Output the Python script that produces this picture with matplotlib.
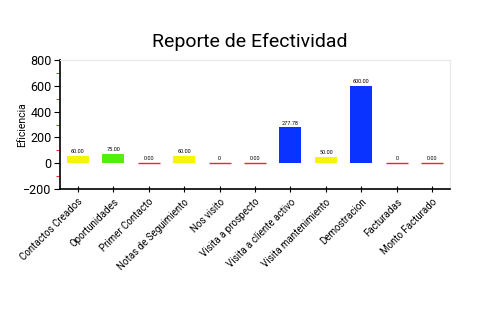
import matplotlib.pyplot as plt
from matplotlib.ticker import MultipleLocator

plt.rcParams['font.family'] = ['Roboto', 'DejaVu Sans']

categorias = ['Contactos Creados', 'Oportunidades', 'Primer Contacto',
              'Notas de Seguimiento', 'Nos visito', 'Visita a prospecto',
              'Visita a cliente activo', 'Visita mantenimiento', 'Demostracion',
              'Facturadas', 'Monto Facturado']
valores = [60, 75, 0, 60, 0, 0, 277.78, 50, 600, 0, 0]
etiquetas = ['60.00', '75.00', '0.00', '60.00', '0', '0.00',
             '277.78', '50.00', '600.00', '0', '0.00']
colores = ['#f5f50a', '#55ee0a', '#ff2020', '#f5f50a', '#ff2020', '#ff2020',
           '#0a33ff', '#f5f50a', '#0a33ff', '#ff2020', '#ff2020']

fig = plt.figure(figsize=(5, 3.3), dpi=100)
ax = fig.add_axes([0.12, 0.427, 0.78, 0.391])

x = list(range(len(categorias)))
for i in x:
    if valores[i] == 0:
        ax.bar(i, 0, width=0.62, color='none', edgecolor=colores[i], linewidth=1)
    else:
        ax.bar(i, valores[i], width=0.62, color=colores[i])
    ax.text(i, valores[i] + 15, etiquetas[i], ha='center', va='bottom', fontsize=4)

ax.set_ylim(-200, 800)
ax.set_xlim(-0.5, len(categorias) - 0.5)
ax.yaxis.set_major_locator(MultipleLocator(200))
ax.yaxis.set_minor_locator(MultipleLocator(100))
ax.tick_params(axis='y', which='minor', color='red', length=3)
ax.tick_params(axis='y', which='major', length=4, labelsize=9, pad=2)
ax.tick_params(axis='x', length=4, direction='inout', labelsize=7)
ax.set_xticks(x)
ax.set_xticklabels(categorias, rotation=45, ha='right', rotation_mode='anchor')
ax.set_ylabel('Eficiencia', fontsize=7.5)
ax.yaxis.set_label_coords(-0.085, 0.5)

for s in ['top', 'right']:
    ax.spines[s].set_color('#e8e8e8')
ax.spines['left'].set_linewidth(1.2)
ax.spines['bottom'].set_linewidth(1.2)

fig.suptitle('Reporte de Efectividad', fontsize=14, y=0.9)
fig.savefig('out.png', dpi=100)
